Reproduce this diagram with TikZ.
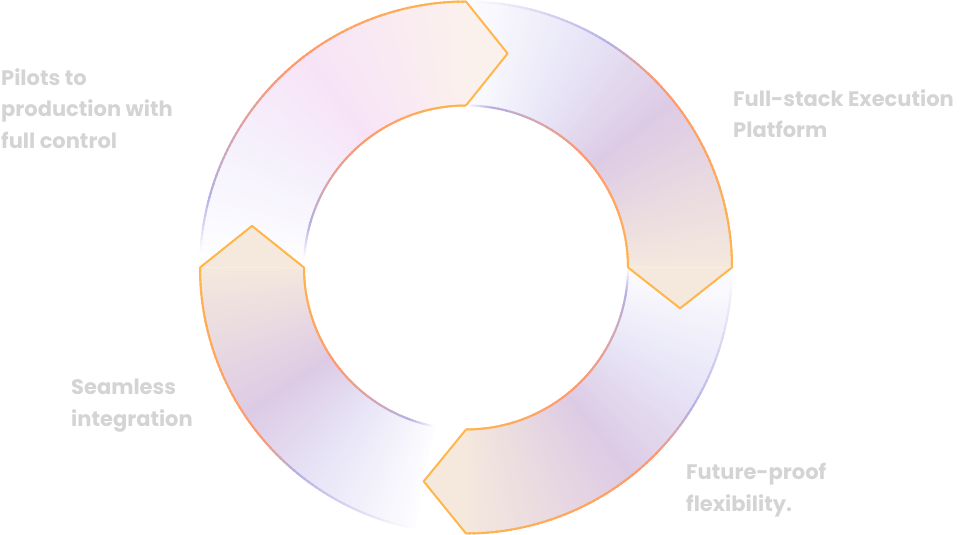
\documentclass[tikz,border=0pt]{standalone}
\usepackage{fontspec}
\setmainfont{Poppins}
\definecolor{Bw}{HTML}{FDFDFF}
\definecolor{Bl}{HTML}{E8E6F7}
\definecolor{Bp}{HTML}{DDCBE5}
\definecolor{Bh}{HTML}{F5E8DD}
\definecolor{Al}{HTML}{F5F1FC}
\definecolor{Ap}{HTML}{F7E3F7}
\definecolor{Ah}{HTML}{FBF1EC}
\definecolor{Ol}{HTML}{B4B0E6}
\definecolor{Oc}{HTML}{FF9870}
\definecolor{Oy}{HTML}{FFB64B}
\definecolor{lblgray}{HTML}{D4D4D4}
\newcommand\Ri{162}
\newcommand\Ro{266}
\newcommand\Rt{218}
% #1 tail angle, #2 head base angle, #3 lavender, #4 purple, #5 head colour
\newcommand\ringbody[5]{%
 \pgfmathsetmacro\myspan{#1-(#2)}%
 \pgfmathtruncatemacro\myn{round(\myspan)}%
 \foreach \i in {1,...,\myn}{%
   \pgfmathsetmacro\myt{(\i-0.5)/\myn}%
   \pgfmathsetmacro\angA{#1-(\i-1)*\myspan/\myn}%
   \pgfmathsetmacro\angB{max(#2,#1-\i*\myspan/\myn-0.6)}%
   \ifdim\myt pt<0.3pt
     \pgfmathtruncatemacro\mypc{100*\myt/0.3}\colorlet{bc}{#3!\mypc!Bw}%
   \else\ifdim\myt pt<0.57pt
     \pgfmathtruncatemacro\mypc{100*(\myt-0.3)/0.27}\colorlet{bc}{#4!\mypc!#3}%
   \else
     \pgfmathtruncatemacro\mypc{100*(\myt-0.57)/0.43}\colorlet{bc}{#5!\mypc!#4}%
   \fi\fi
   \fill[bc] (\angA:\Ri) arc[start angle=\angA,end angle=\angB,radius=\Ri]
     -- (\angB:\Ro) arc[start angle=\angB,end angle=\angA,radius=\Ro] -- cycle;
 }}
% #1 tail angle, #2 head base angle, #3 fade fraction for outer arc, #4 for inner arc
\newcommand\ringline[4]{%
 \pgfmathsetmacro\myspan{#1-(#2)}%
 \pgfmathtruncatemacro\myn{round(\myspan)}%
 \foreach \i in {1,...,\myn}{%
   \pgfmathsetmacro\myt{(\i-0.5)/\myn}%
   \pgfmathsetmacro\angA{#1-(\i-1)*\myspan/\myn}%
   \pgfmathsetmacro\angB{max(#2,#1-\i*\myspan/\myn-0.6)}%
   \foreach \rr/\ff in {\Ro/#3,\Ri/#4}{%
     \ifdim\myt pt<\ff pt
       \pgfmathtruncatemacro\mypc{100*\myt/\ff}\colorlet{oc}{Ol!\mypc!white}%
     \else\ifdim\myt pt<0.5pt
       \pgfmathtruncatemacro\mypc{100*(\myt-\ff)/(0.5-\ff)}\colorlet{oc}{Oc!\mypc!Ol}%
     \else
       \pgfmathtruncatemacro\mypc{100*(\myt-0.5)/0.5}\colorlet{oc}{Oy!\mypc!Oc}%
     \fi\fi
     \draw[oc,line width=2] (\angA:\rr) arc[start angle=\angA,end angle=\angB,radius=\rr];
   }
 }}
\tikzset{
  lbl/.style={anchor=north west,inner sep=0pt,align=left,text=lblgray,
    font=\fontsize{21}{31.5}\selectfont\bfseries},
  headline/.style={draw=Oy,line width=2,line join=round,line cap=round}
}
\begin{document}
\begin{tikzpicture}[x=1pt,y=1pt]
\useasboundingbox (0,0) rectangle (961,535);
\begin{scope}[shift={(466,267.5)}]
  \ringbody{177}{90}{Al}{Ap}{Ah}
  \ringbody{90}{0}{Bl}{Bp}{Bh}
  \ringbody{0}{-90}{Bl}{Bp}{Bh}
  \ringbody{259}{180}{Bl}{Bp}{Bh}
  \ringline{177}{90}{0.14}{0.14}
  \ringline{90}{0}{0.36}{0.1}
  \ringline{0}{-90}{0.36}{0.1}
  \ringline{259}{180}{0.36}{0.12}
  % arrow heads
  \coordinate (h1o) at (90:\Ro);  \coordinate (h1i) at (90:\Ri);  \coordinate (h1t) at (79:\Rt);
  \coordinate (h2o) at (0:\Ro);   \coordinate (h2i) at (0:\Ri);   \coordinate (h2t) at (-10.8:\Rt);
  \coordinate (h3o) at (-90:\Ro); \coordinate (h3i) at (-90:\Ri); \coordinate (h3t) at (-101.2:\Rt);
  \coordinate (h4o) at (180:\Ro); \coordinate (h4i) at (180:\Ri); \coordinate (h4t) at (169:\Rt);
  \fill[Ah] (h1o) -- (h1t) -- (h1i) -- cycle;
  \fill[Bh] (h2o) -- (h2t) -- (h2i) -- cycle;
  \fill[Bh] (h3o) -- (h3t) -- (h3i) -- cycle;
  \fill[Bh] (h4o) -- (h4t) -- (h4i) -- cycle;
  \draw[headline] (h1o) -- (h1t) -- (h1i);
  \draw[headline] (h2o) -- (h2t) -- (h2i);
  \draw[headline] (h3o) -- (h3t) -- (h3i);
  \draw[headline] (h4o) -- (h4t) -- (h4i);
\end{scope}
\node[lbl] (pilots) at (1,467) {Pilots to\\production with\\full control};
\node[lbl] (fullstack) at (733,446) {Full-stack Execution\\Platform};
\node[lbl] (seamless) at (71,156) {Seamless\\integration};
\node[lbl] (future) at (686,72) {Future-proof\\flexibility.};
\end{tikzpicture}
\end{document}
